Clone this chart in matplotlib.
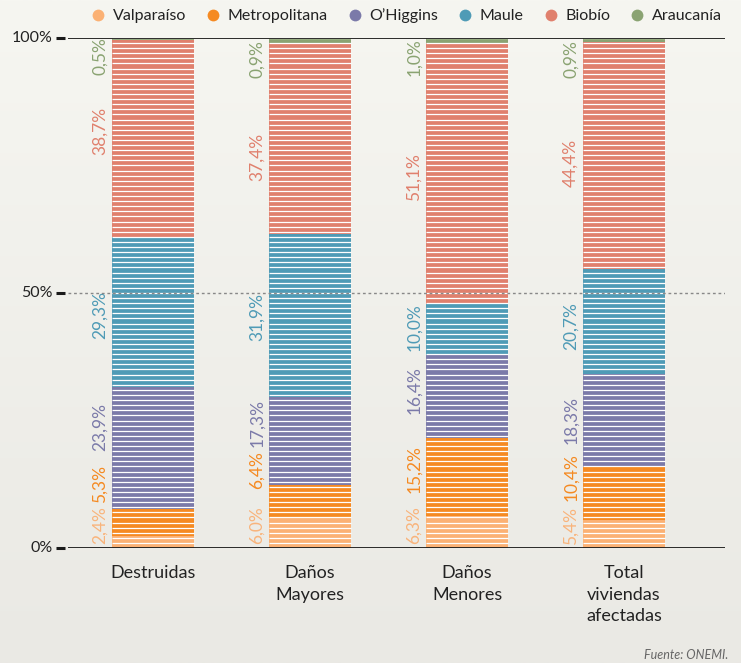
import numpy as np
import matplotlib
matplotlib.use("Agg")
import matplotlib.pyplot as plt
from matplotlib.lines import Line2D
import matplotlib.transforms as mtransforms

plt.rcParams['font.family'] = ['Lato', 'DejaVu Sans']

# ---------------- data ----------------
categories = ["Destruidas", "Daños\nMayores", "Daños\nMenores", "Total\nviviendas\nafectadas"]
regions = ["Valparaíso", "Metropolitana", "O’Higgins", "Maule", "Biobío", "Araucanía"]
valparaiso    = [2.4, 6.0, 6.3, 5.4]
metropolitana = [5.3, 6.4, 15.2, 10.4]
ohiggins      = [23.9, 17.3, 16.4, 18.3]
maule         = [29.3, 31.9, 10.0, 20.7]
biobio        = [38.7, 37.4, 51.1, 44.4]
araucania     = [0.5, 0.9, 1.0, 0.9]
series = [valparaiso, metropolitana, ohiggins, maule, biobio, araucania]

# label text positions (in % units)
label_y = [
    [4.4, 12.5, 23.7, 45.7, 81.7, 96.4],
    [4.4, 15.2, 24.6, 45.2, 76.6, 95.9],
    [4.4, 15.5, 31.0, 43.4, 72.8, 96.2],
    [4.4, 14.0, 25.1, 43.6, 75.6, 95.9],
]
yticks = [0, 50, 100]
ytick_labels = ["0%", "50%", "100%"]

colors = ["#fbb174", "#f58a22", "#7b7aa9", "#4f9bb6", "#e0806d", "#8aa372"]
label_colors = ["#f9b47c", "#f58a22", "#7b7aa9", "#4f9bb6", "#e0806d", "#8aa372"]

# ---------------- figure ----------------
W, H = 741, 663
fig = plt.figure(figsize=(W / 100, H / 100), dpi=100)

# gradient background
bg = fig.add_axes([0, 0, 1, 1], zorder=-10)
grad = np.linspace(0, 1, 256).reshape(-1, 1)
top = np.array([0xf6, 0xf6, 0xf1]) / 255
bot = np.array([0xea, 0xe9, 0xe4]) / 255
img = top[None, None, :] * (1 - grad[:, :, None]) + bot[None, None, :] * grad[:, :, None]
bg.imshow(img, aspect='auto', extent=[0, 1, 0, 1])
bg.axis('off')

ax_left, ax_right = 68, 725
ax_top, ax_bot = 38, 548
ax = fig.add_axes([ax_left / W, 1 - ax_bot / H, (ax_right - ax_left) / W, (ax_bot - ax_top) / H])
ax.set_facecolor('none')

step = 157.0
x = np.arange(len(categories))
width = 82 / step
ax.set_xlim(-(153 - ax_left) / step, 3 + (ax_right - 624) / step)
ax.set_ylim(0, 100)

bottom = np.zeros(len(categories))
for vals, c in zip(series, colors):
    ax.bar(x, vals, width, bottom=bottom, color=c, linewidth=0, zorder=2)
    bottom += np.array(vals)

# white stripes
for xi in x:
    ax.hlines(np.arange(1, 101, 1.0), xi - width / 2, xi + width / 2,
              colors='white', linewidth=0.9, zorder=3)

# axis lines
ax.axhline(100, color='#1a1a1a', lw=1.3, zorder=4)
ax.axhline(0, color='#1a1a1a', lw=1.3, zorder=4)
ax.axhline(50, color='#888888', lw=1.0, ls=(0, (2, 2)), zorder=4)

for s in ax.spines.values():
    s.set_visible(False)
ax.set_xticks([])
ax.set_yticks([])

# y ticks (custom dashes + labels)
trans = mtransforms.blended_transform_factory(ax.transAxes, ax.transData)
aw = ax_right - ax_left
for yv, yl in zip(yticks, ytick_labels):
    ax.plot([(56 - ax_left) / aw, (65 - ax_left) / aw], [yv, yv], color='#1a1a1a',
            lw=2.2, transform=trans, clip_on=False, solid_capstyle='butt')
    ax.text((53 - ax_left) / aw, yv, yl, transform=trans, ha='right', va='center',
            fontsize=11.5, color='#222222')

# value labels
for i in range(len(categories)):
    for j, vals in enumerate(series):
        txt = f"{vals[i]:.1f}".replace('.', ',') + "%"
        ax.annotate(txt, xy=(x[i] - width / 2, label_y[i][j]), xytext=(-3, 0),
                    textcoords='offset points', rotation=90, ha='right', va='center',
                    fontsize=12.5, color=label_colors[j], fontweight='normal',
                    annotation_clip=False)

# category labels
for i, cat in enumerate(categories):
    ax.text(x[i], -3.4, cat, ha='center', va='top', fontsize=13, color='#222222',
            linespacing=1.4, transform=ax.transData)

# legend
handles = [Line2D([0], [0], marker='o', ls='none', markersize=8.5,
                  markerfacecolor=c, markeredgecolor='none') for c in colors]
fig.legend(handles, regions, loc='center right', bbox_to_anchor=(728 / W, 1 - 16 / H),
           ncol=6, frameon=False, fontsize=11.5, handletextpad=0.3, columnspacing=1.1,
           handlelength=1.2, borderaxespad=0, labelcolor='#222222')

fig.text(728 / W, 1 - 655 / H, "Fuente: ONEMI.", ha='right', va='center', fontsize=9,
         style='italic', color='#666666')

fig.savefig("out.png", dpi=100)
